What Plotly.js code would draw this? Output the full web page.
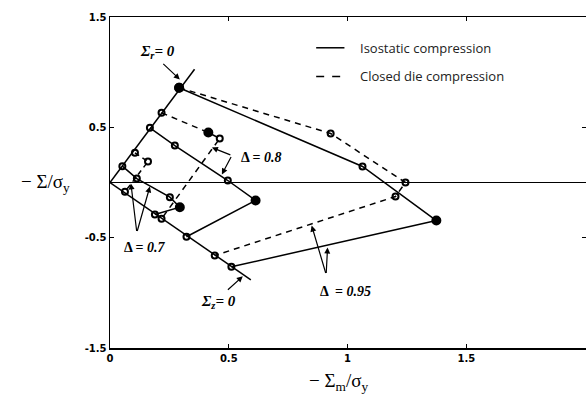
<!DOCTYPE html>
<html><head><meta charset="utf-8">
<script src="https://cdn.plot.ly/plotly-3.0.1.min.js"></script>
<style>html,body{margin:0;padding:0;background:#fff;}#chart{width:586px;height:402px;}</style>
</head><body><div id="chart"></div>
<script>
// Boundary lines Σr = 0 and Σz = 0
const sigmaR_x = [0, 0.356];
const sigmaR_y = [0, 1.027];
const sigmaZ_x = [0, 0.593];
const sigmaZ_y = [0, -0.882];

// Isostatic compression (solid) curves
const iso095_x = [0.291, 1.063, 1.374, 0.511];
const iso095_y = [0.859, 0.145, -0.345, -0.764];
const iso08_x = [0.168, 0.273, 0.496, 0.613, 0.322];
const iso08_y = [0.496, 0.335, 0.018, -0.163, -0.492];
const iso07_x = [0.052, 0.113, 0.252, 0.294, 0.189];
const iso07_y = [0.148, 0.036, -0.133, -0.224, -0.290];

// Closed die compression (dashed) curves
const die095_x = [0.291, 0.929, 1.244, 1.202, 0.441];
const die095_y = [0.859, 0.444, 0.000, -0.127, -0.662];
const die08_x = [0.217, 0.414, 0.462, 0.217];
const die08_y = [0.632, 0.453, 0.399, -0.329];
const die07_x = [0.105, 0.160, 0.063];
const die07_y = [0.269, 0.190, -0.084];

// which vertices are drawn as filled dots
const iso095_filled = [0, 2];
const iso08_filled = [3];
const iso07_filled = [3];
const die095_filled = [0];
const die08_filled = [1];
const die07_filled = [];

const xTicks = [0, 0.5, 1, 1.5, 2];
const xTickText = ['0', '0.5', '1', '1.5', '2'];
const yTicks = [-1.5, -0.5, 0.5, 1.5];
const yTickText = ['-1.5', '-0.5', '0.5', '1.5'];

function curve(x, y, filled, dash) {
  return {
    x: x, y: y, type: 'scatter', mode: 'lines+markers', showlegend: false,
    line: {color: 'black', width: 1.5, dash: dash},
    marker: {
      symbol: x.map((_, i) => filled.includes(i) ? 'circle' : 'circle-open'),
      size: x.map((_, i) => filled.includes(i) ? 8 : 6),
      color: 'black', opacity: 1, line: {color: 'black', width: 2}
    },
    hoverinfo: 'skip'
  };
}

const traces = [
  {x: sigmaR_x, y: sigmaR_y, type: 'scatter', mode: 'lines', showlegend: false, line: {color: 'black', width: 1.5}},
  {x: sigmaZ_x, y: sigmaZ_y, type: 'scatter', mode: 'lines', showlegend: false, line: {color: 'black', width: 1.5}},
  curve(iso095_x, iso095_y, iso095_filled, 'solid'),
  curve(iso08_x, iso08_y, iso08_filled, 'solid'),
  curve(iso07_x, iso07_y, iso07_filled, 'solid'),
  curve(die095_x, die095_y, die095_filled, '6px,5px'),
  curve(die08_x, die08_y, die08_filled, '6px,5px'),
  curve(die07_x, die07_y, die07_filled, '5px,4px')
];

const serif = 'Liberation Serif';
function arrow(hx, hy, tx, ty) {
  return {x: hx, y: hy, ax: tx, ay: ty, xref: 'x', yref: 'y', axref: 'x', ayref: 'y',
          text: '', showarrow: true, arrowhead: 2, arrowsize: 1, arrowwidth: 1.2,
          arrowcolor: 'black', standoff: 0, startstandoff: 0};
}
function label(x, y, text, size, anchor) {
  return {x: x, y: y, xref: 'x', yref: 'y', text: text, showarrow: false,
          xanchor: anchor || 'center', yanchor: 'middle',
          font: {family: serif, size: size, color: 'black'}};
}

const pw = 586 - 110, ph = 402 - 17 - 54;

const annotations = [
  label(0.202, 1.179, '<b><i>Σ<sub>r</sub>= 0</i></b>', 15),
  arrow(0.294, 0.934, 0.218, 1.088),
  label(0.458, -1.079, '<b><i>Σ<sub>z</sub>= 0</i></b>', 15),
  arrow(0.559, -0.850, 0.490, -0.985),
  label(0.634, 0.227, '<b>Δ = <i>0.8</i></b>', 14),
  arrow(0.429, 0.317, 0.513, 0.245),
  arrow(0.471, 0.073, 0.513, 0.245),
  label(0.147, -0.589, '<b>Δ = <i>0.7</i></b>', 14),
  arrow(0.088, -0.009, 0.113, -0.453),
  arrow(0.168, -0.036, 0.113, -0.453),
  label(0.992, -0.988, '<b>Δ  = <i>0.95</i></b>', 14),
  arrow(0.849, -0.390, 0.910, -0.834),
  arrow(0.916, -0.589, 0.910, -0.834),
  // legend text
  {x: 1.046, y: 1.221, xref: 'x', yref: 'y', text: 'Isostatic compression', showarrow: false,
   xanchor: 'left', yanchor: 'middle', font: {family: 'Open Sans', size: 13, color: '#222'}},
  {x: 1.046, y: 0.961, xref: 'x', yref: 'y', text: 'Closed die compression', showarrow: false,
   xanchor: 'left', yanchor: 'middle', font: {family: 'Open Sans', size: 13, color: '#222'}},
  // axis titles (pixel-positioned)
  {x: (45 - 110) / pw, y: (402 - 54 - 183) / ph, xref: 'paper', yref: 'paper',
   text: '− Σ/σ<sub>y</sub>', showarrow: false, xanchor: 'center', yanchor: 'middle',
   font: {family: serif, size: 19, color: 'black'}},
  {x: (338 - 110) / pw, y: (402 - 54 - 382) / ph, xref: 'paper', yref: 'paper',
   text: '− Σ<sub>m</sub>/σ<sub>y</sub>', showarrow: false, xanchor: 'center', yanchor: 'middle',
   font: {family: serif, size: 19, color: 'black'}}
];

const layout = {
  width: 586, height: 402,
  margin: {l: 110, r: 0, t: 17, b: 54, pad: 0},
  paper_bgcolor: 'white', plot_bgcolor: 'white',
  showlegend: false,
  xaxis: {
    range: [0, 2.004], showgrid: false, zeroline: false,
    tickvals: xTicks, ticktext: xTickText, ticks: 'inside', ticklen: 4, tickwidth: 1.2, tickcolor: 'black',
    showline: true, linecolor: 'black', linewidth: 1.5, mirror: 'ticks',
    tickfont: {family: 'DejaVu Sans', size: 10, color: 'black', weight: 'bold'}
  },
  yaxis: {
    range: [-1.5, 1.5], showgrid: false, zeroline: true, zerolinecolor: 'black', zerolinewidth: 1.5,
    tickvals: yTicks, ticktext: yTickText, ticks: 'inside', ticklen: 4, tickwidth: 1.2, tickcolor: 'black',
    showline: true, linecolor: 'black', linewidth: 1.5, mirror: 'ticks',
    tickfont: {family: 'DejaVu Sans', size: 10, color: 'black', weight: 'bold'}
  },
  shapes: [
    {type: 'line', xref: 'x', yref: 'y', x0: 0.868, x1: 0.987, y0: 1.221, y1: 1.221, line: {color: 'black', width: 1.5}},
    {type: 'line', xref: 'x', yref: 'y', x0: 0.868, x1: 0.987, y0: 0.961, y1: 0.961, line: {color: 'black', width: 1.5, dash: '8px,8px'}}
  ],
  annotations: annotations
};

Plotly.newPlot('chart', traces, layout, {displayModeBar: false, staticPlot: true});
</script>
</body></html>
